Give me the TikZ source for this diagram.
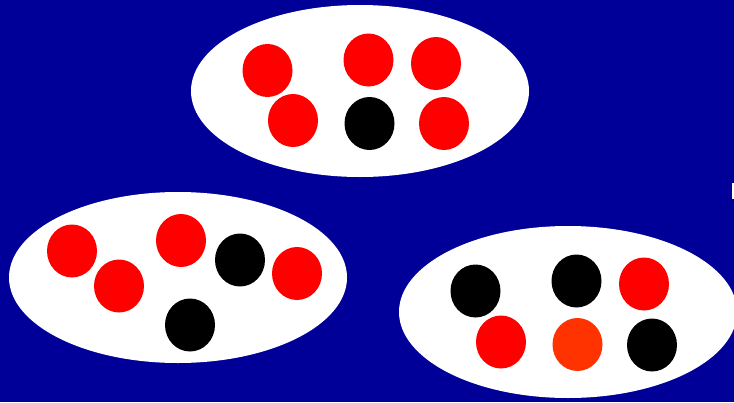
\documentclass[tikz,border=0pt]{standalone}
\definecolor{bgblue}{HTML}{000099}
\definecolor{ballred}{HTML}{FF0000}
\definecolor{ballorange}{HTML}{FF3300}
\tikzset{
  group/.style={fill=white},
  redball/.style={fill=ballred},
  blackball/.style={fill=black},
  orangeball/.style={fill=ballorange}
}
\newcommand{\ball}[3]{\fill[#1] (#2,#3) ellipse [x radius=25, y radius=26.5];}
\begin{document}
\begin{tikzpicture}[x=1pt,y=-1pt]
\useasboundingbox (0,0) rectangle (734,402);
\clip (0,0) rectangle (734,402);
\fill[bgblue] (0,0) rectangle (734,402);
% top group
\fill[group] (360,91) ellipse [x radius=169, y radius=86];
\ball{redball}{267.5}{70.5}
\ball{redball}{368.5}{60}
\ball{redball}{436}{63.5}
\ball{redball}{293}{120.5}
\ball{blackball}{369.5}{123.5}
\ball{redball}{444}{123.5}
% left group
\fill[group] (178,277.5) ellipse [x radius=169, y radius=85.5];
\ball{redball}{72}{251}
\ball{redball}{119}{286}
\ball{redball}{181}{240.5}
\ball{blackball}{240}{260}
\ball{redball}{297}{273.5}
\ball{blackball}{190}{325}
% right group
\fill[group] (568,312) ellipse [x radius=169, y radius=86];
\ball{blackball}{475.5}{291}
\ball{blackball}{576.5}{281}
\ball{redball}{644}{284}
\ball{redball}{501}{342}
\ball{orangeball}{577.5}{344.5}
\ball{blackball}{652}{345}
% small clipped mark at right edge
\fill[white] (732,183) rectangle (734,199);
\end{tikzpicture}
\end{document}
